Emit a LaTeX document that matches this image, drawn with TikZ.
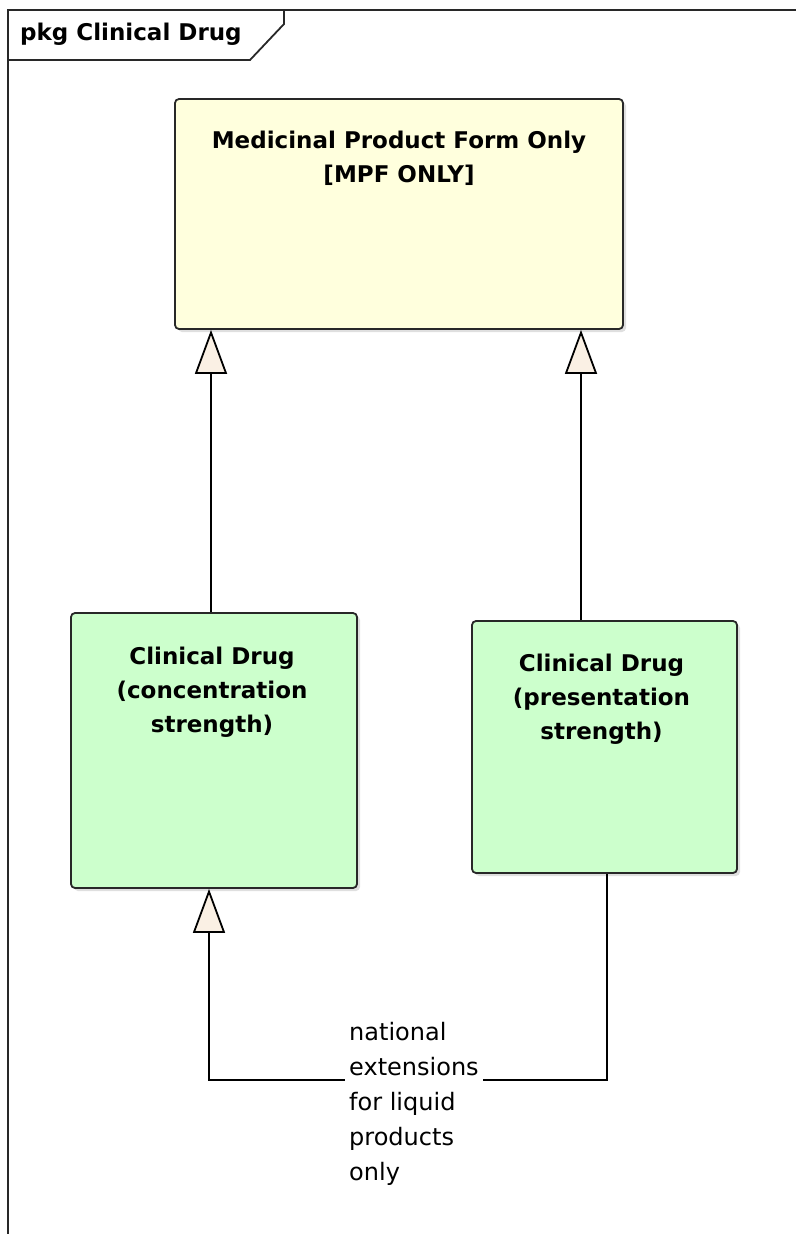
\documentclass[tikz,border=0pt]{standalone}
\usepackage{fontspec}
\setmainfont{DejaVu Sans}
\usepackage{xcolor}
\usepackage{tikz}
\usetikzlibrary{arrows.meta,shadows,positioning}
\definecolor{mpfyellow}{RGB}{255,255,221}
\definecolor{druggreen}{RGB}{204,255,204}
\definecolor{tipfill}{RGB}{250,240,228}
\definecolor{edgegray}{RGB}{40,40,40}

\begin{document}
\begin{tikzpicture}[x=1pt,y=-1pt,
umlclass/.style={draw=edgegray,line width=1.8pt,rounded corners=4pt,
  drop shadow={shadow xshift=3pt,shadow yshift=-3pt,opacity=0.25}},
classname/.style={font=\bfseries\fontsize{23}{34}\selectfont,align=center,inner sep=0pt,anchor=north},
gen/.style={-{Triangle[length=44pt,width=32pt,fill=tipfill]},line width=1.8pt,draw=black},
frame/.style={line width=1.8pt,draw=edgegray},
note/.style={font=\fontsize{24}{35}\selectfont,align=left,fill=white,inner sep=4pt,anchor=north west}]
\useasboundingbox (0,0) rectangle (796,1234);
\draw[frame] (8,1234) -- (8,10) -- (796,10);
\draw[frame] (8,60) -- (250,60) -- (284,24) -- (284,10);
\node[font=\bfseries\fontsize{23}{28}\selectfont,anchor=base west,inner sep=0pt] (pkg) at (20,40) {pkg Clinical Drug};
\node[umlclass,fill=mpfyellow,minimum width=448pt,minimum height=230pt] (mpf) at (399,214) {};
\node[classname,below=33pt of mpf.north] (mpfname) {Medicinal Product Form Only\\{[MPF ONLY]}};
\node[umlclass,fill=druggreen,minimum width=286pt,minimum height=275pt] (cdconc) at (214,750.5) {};
\node[classname,below=35pt of cdconc.north,xshift=-2pt] (cdconcname) {Clinical Drug\\(concentration\\strength)};
\node[umlclass,fill=druggreen,minimum width=265pt,minimum height=252pt] (cdpres) at (604.5,747) {};
\node[classname,below=34pt of cdpres.north,xshift=-3pt] (cdpresname) {Clinical Drug\\(presentation\\strength)};
\draw[gen] ([xshift=-3pt]cdconc.north) -- ([xshift=-3pt]cdconc.north |- mpf.south);
\draw[gen] ([xshift=-23.5pt]cdpres.north) -- ([xshift=-23.5pt]cdpres.north |- mpf.south);
\draw[gen] ([xshift=2.5pt]cdpres.south) -- ++(0,206) -| ([xshift=-5pt]cdconc.south);
\node[note] (liquid) at (345,1018) {national\\extensions\\for liquid\\products\\only};
\end{tikzpicture}
\end{document}
